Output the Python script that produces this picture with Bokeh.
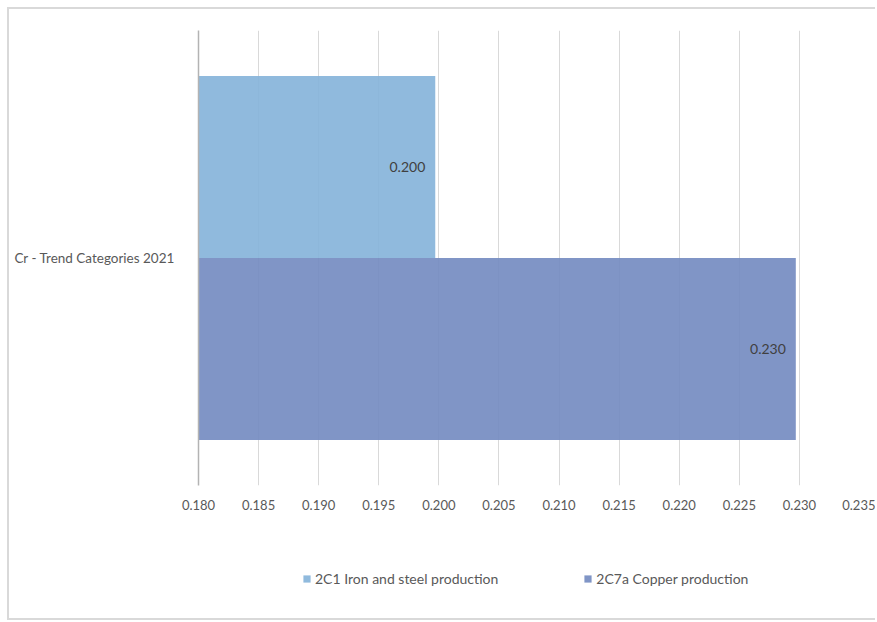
from bokeh.plotting import figure
from bokeh.layouts import column
from bokeh.models import (ColumnDataSource, FactorRange, Range1d, FixedTicker,
                          NumeralTickFormatter, LabelSet, Legend, LegendItem)
from bokeh.core.properties import value
from bokeh.transform import dodge
from bokeh.embed import file_html
from bokeh.resources import INLINE

# ---- data ----
categories = ["Cr - Trend Categories  2021"]
series_names = ["2C1 Iron and steel production", "2C7a Copper production"]
iron_steel = [0.1997]
copper = [0.2297]
x_ticks = [0.180, 0.185, 0.190, 0.195, 0.200, 0.205, 0.210, 0.215, 0.220, 0.225, 0.230, 0.235]

colors = ["#87B4DA", "#758CC1"]
FONT = "Lato"

W = 866
H_MAIN = 530
H_LEG = 79

p = figure(width=W, height=H_MAIN, output_backend="svg", toolbar_location=None,
           y_range=FactorRange(factors=categories),
           x_range=Range1d(0.180, 0.235),
           min_border_left=189, min_border_right=16,
           min_border_top=21, min_border_bottom=54)
p.outline_line_color = None

src1 = ColumnDataSource(dict(cat=categories, val=iron_steel,
                             lab=["%.3f" % v for v in iron_steel]))
src2 = ColumnDataSource(dict(cat=categories, val=copper,
                             lab=["%.3f" % v for v in copper]))

p.hbar(y=dodge("cat", 0.2, range=p.y_range), right="val", left=0.180,
       height=0.4, source=src1, fill_color=colors[0], fill_alpha=0.92,
       line_color=None)
p.hbar(y=dodge("cat", -0.2, range=p.y_range), right="val", left=0.180,
       height=0.4, source=src2, fill_color=colors[1], fill_alpha=0.92,
       line_color=None)

for src, off in ((src1, 0.2), (src2, -0.2)):
    lbl = LabelSet(x="val", y=dodge("cat", off, range=p.y_range), text="lab",
                   source=src, x_offset=-10, text_align="right",
                   text_baseline="middle", text_font=value(FONT),
                   text_font_size=value("14px"), text_color="#404040")
    p.add_layout(lbl)

# x axis
p.xaxis.ticker = FixedTicker(ticks=x_ticks)
p.xaxis.formatter = NumeralTickFormatter(format="0.000")
p.xaxis.axis_line_color = None
p.xaxis.major_tick_line_color = None
p.xaxis.minor_tick_line_color = None
p.xaxis.major_label_text_font = FONT
p.xaxis.major_label_text_font_size = "13px"
p.xaxis.major_label_text_color = "#595959"
p.xaxis.major_label_standoff = 8

# y axis
p.yaxis.axis_line_color = "#b3b3b3"
p.yaxis.axis_line_width = 1.5
p.yaxis.major_tick_line_color = None
p.yaxis.minor_tick_line_color = None
p.yaxis.major_label_text_font = FONT
p.yaxis.major_label_text_font_size = "13.5px"
p.yaxis.major_label_text_color = "#595959"
p.yaxis.major_label_standoff = 14

p.xgrid.grid_line_color = "#d9d9d9"
p.ygrid.grid_line_color = None

# ---- legend strip (separate figure below the chart) ----
lg = figure(width=W, height=H_LEG, output_backend="svg", toolbar_location=None,
            x_range=Range1d(10, 11), y_range=FactorRange(factors=categories),
            x_axis_location=None, y_axis_location=None,
            min_border_left=189, min_border_right=16,
            min_border_top=0, min_border_bottom=0)
lg.grid.visible = False
lg.outline_line_color = None
# zero-height proxies: only their styling is used by the legend
l1 = lg.hbar(y="cat", right="val", left=0.180, height=0, source=src1,
             fill_color=colors[0], fill_alpha=0.92, line_color=None)
l2 = lg.hbar(y="cat", right="val", left=0.180, height=0, source=src2,
             fill_color=colors[1], fill_alpha=0.92, line_color=None)

legend = Legend(items=[LegendItem(label=series_names[0], renderers=[l1]),
                       LegendItem(label=series_names[1], renderers=[l2])],
                orientation="horizontal", location=(104, 31),
                glyph_width=9, glyph_height=9, spacing=85,
                label_text_font=FONT, label_text_font_size="14px",
                label_text_color="#595959", label_standoff=4,
                border_line_color=None, background_fill_alpha=0,
                margin=0, padding=5)
lg.add_layout(legend, "center")

layout = column(p, lg, spacing=0)
layout.styles = {"border": "2px solid #d9d9d9", "border-right": "none",
                 "margin-left": "7px", "margin-top": "7px"}

open("out.html", "w").write(file_html(layout, INLINE))
